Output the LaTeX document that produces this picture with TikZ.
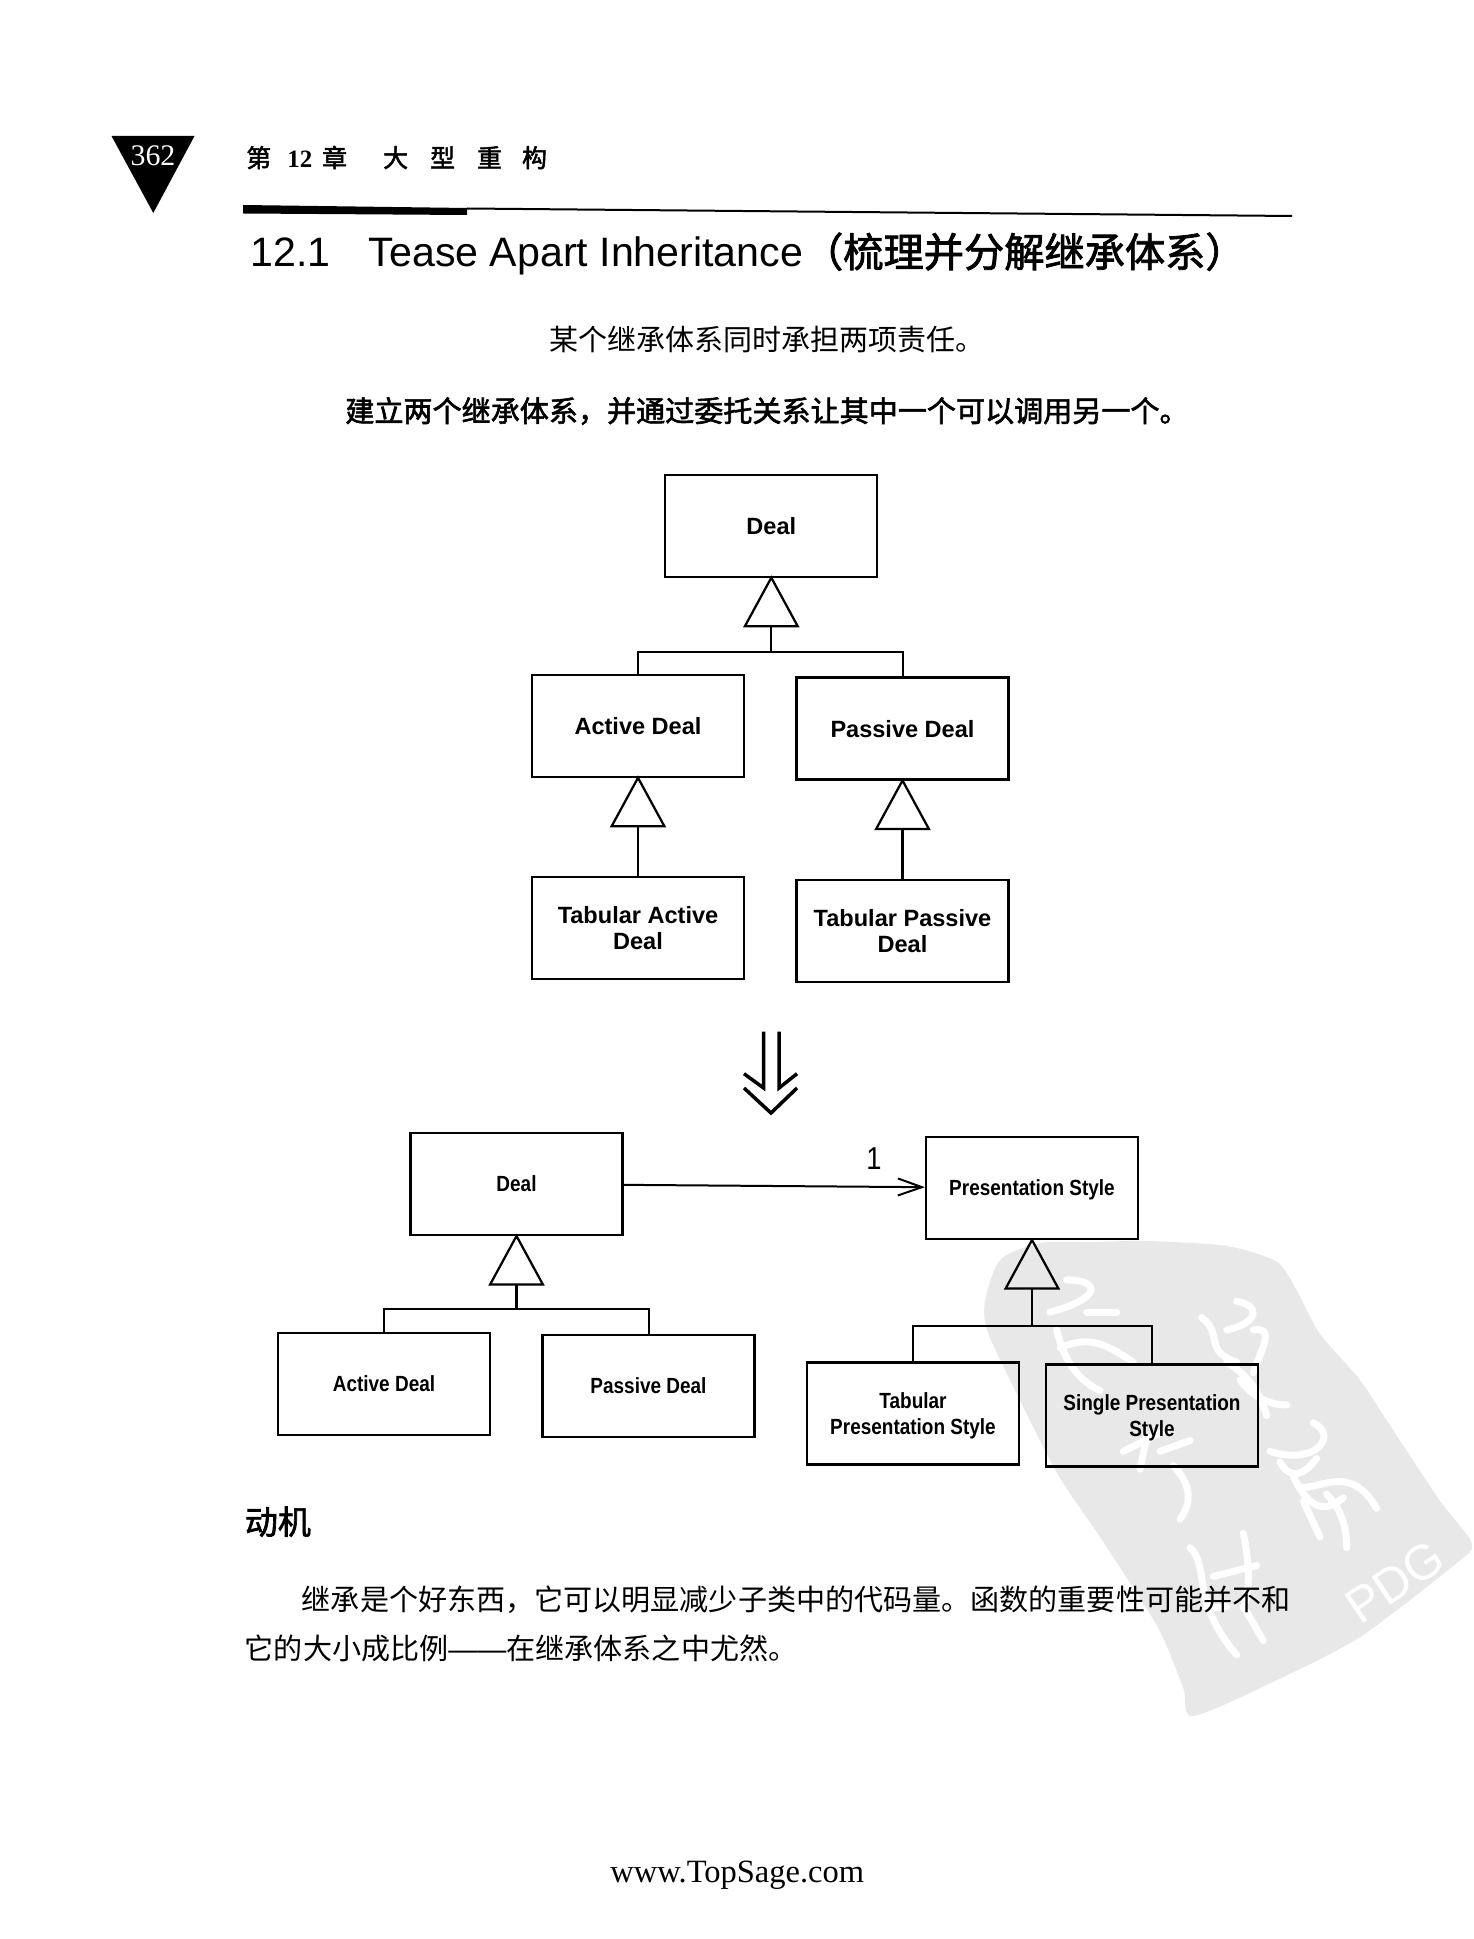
\documentclass[tikz,border=0pt]{standalone}
\usepackage{fontspec}
\setmainfont{Liberation Sans}
\newfontfamily\cjk{Noto Sans CJK SC}
\newfontfamily\cjkbold[FakeBold=2]{Noto Sans CJK SC}
\newfontfamily\timesfont{Liberation Serif}
\newfontfamily\narrowfont[FakeStretch=.864]{Liberation Sans}
\usetikzlibrary{arrows.meta, positioning}
\definecolor{stamp}{RGB}{232, 232, 232}
\begin{document}
\begin{tikzpicture}[
            x=0.02cm, y=-0.02cm,
            classbox/.style={rectangle, draw, line width=0.045cm, inner sep=0pt, align=center, text depth=0pt, minimum width=4.24cm, minimum height=2.04cm},
            upper/.style={classbox, font=\bfseries\fontsize{13.4}{15.3}\selectfont},
            lower/.style={classbox, font=\narrowfont\bfseries\fontsize{12.5}{15.2}\selectfont},
            pagetext/.style={anchor=west, inner sep=0pt},
            inherits/.style={line width=0.045cm, shorten >=-0.05cm, -{Triangle[open, length=1.04cm, width=1.12cm]}},
            tree/.style={line width=0.04cm},
            seal/.style={draw=white, line width=0.14cm, line cap=round, line join=round}
        ]
            \useasboundingbox (0,0) rectangle (1473,1939);

            % STAMP
            \fill[stamp] plot[smooth cycle, tension=.45] coordinates {
                (985,1301) (1000,1260) (1040,1243) (1093,1242) (1147,1241) (1227,1246) (1277,1262) (1297,1291)
                (1320,1334) (1360,1380) (1393,1430) (1440,1501) (1472,1544) (1453,1566) (1360,1637) (1277,1680)
                (1193,1716) (1183,1687) (1157,1626) (1100,1537) (1057,1473) (1010,1380) (987,1330)};
            \begin{scope}[shift={(960,1180)}, x=0.00667cm, y=-0.00714cm]
                \draw[seal] (320,280) .. controls (420,280) and (430,330) .. (270,370);
                \draw[seal] (380,370) -- (470,370);
                \draw[seal] (290,420) .. controls (310,500) and (350,560) .. (420,590);
                \draw[seal] (300,470) .. controls (400,430) and (450,470) .. (520,510);
                \draw[seal] (830,340) .. controls (900,350) and (900,400) .. (800,420);
                \draw[seal] (725,385) .. controls (790,430) and (730,480) .. (830,510);
                \draw[seal] (880,420) .. controls (950,410) and (900,480) .. (880,540);
                \draw[seal] (800,510) .. controls (870,550) and (900,600) .. (920,660);
                \draw[seal] (840,560) .. controls (880,610) and (930,630) .. (980,630);
                \draw[seal] (490,760) -- (620,700);
                \draw[seal] (560,720) -- (540,810);
                \draw[seal] (600,760) -- (690,730);
                \draw[seal] (640,800) .. controls (690,850) and (700,900) .. (660,950);
                \draw[seal] (1060,680) .. controls (1140,720) and (1060,800) .. (930,760);
                \draw[seal] (960,790) .. controls (990,840) and (1030,830) .. (1070,780);
                \draw[seal] (1020,860) .. controls (1080,870) and (1170,790) .. (1250,920);
                \draw[seal] (1030,900) -- (1080,1000);
                \draw[seal] (1100,880) .. controls (1150,930) and (1160,980) .. (1160,1030);
                \draw[seal] (1000,830) .. controls (1050,930) and (1100,930) .. (1150,890);
                \draw[seal] (690,1030) .. controls (750,1080) and (690,1180) .. (830,1330);
                \draw[seal] (850,990) .. controls (870,1080) and (870,1150) .. (850,1200);
                \draw[seal] (760,1110) -- (890,1080);
                \draw[seal] (740,1200) -- (800,1195);
                \draw[seal] (860,1210) -- (910,1290);
            \end{scope}
            \node[white, rotate=34, inner sep=0pt, font=\fontsize{28}{28}\selectfont] (pdg) at (1395,1582) {PDG};

            % HEADER
            \fill (111.5,136) -- (194.5,136) -- (153.3,213) -- cycle;
            \node[white, inner sep=0pt, font=\timesfont\fontsize{17}{17}\selectfont] (pageno) at (153,155.5) {362};
            \node[pagetext, font=\cjkbold\fontsize{14.2}{14.2}\selectfont] (chapter) at (246,157.5) {第\hspace{.32cm}{\timesfont\bfseries 12}\hspace{.2cm}章\hspace{.72cm}大\hspace{.44cm}型\hspace{.44cm}重\hspace{.4cm}构};
            \fill (243,205) -- (467,208) -- (467,215) -- (243,213.5) -- cycle;
            \draw[line width=0.04cm] (467,208.5) -- (1292,216);

            % TITLE
            \node[pagetext, font=\fontsize{23.4}{23.4}\selectfont] (title) at (250,254) {12.1\hspace{.77cm}Tease Apart Inheritance{\cjkbold\fontsize{22.9}{22.9}\selectfont （梳理并分解继承体系）}};
            \node[pagetext, font=\cjk\fontsize{16.5}{16.5}\selectfont] (problem) at (549.5,339) {某个继承体系同时承担两项责任。};
            \node[pagetext, font=\cjkbold\fontsize{16.55}{16.55}\selectfont] (solution) at (345,411) {建立两个继承体系，并通过委托关系让其中一个可以调用另一个。};

            % BEFORE
            \node[upper] (deal) at (771.3,525.7) {Deal};
            \node[upper] (active) at (638,725.8) {Active Deal};
            \node[upper] (passive) at (902.5,728.5) {Passive Deal};
            \node[upper] (tabactive) at (638,928) {Tabular Active\\Deal};
            \node[upper] (tabpassive) at (902.5,931) {Tabular Passive\\Deal};
            \coordinate (dealjoin) at (771.3,652);
            \draw[inherits] (dealjoin) -- (deal.south);
            \draw[tree] (active.north) |- (dealjoin) -| (passive.north);
            \draw[inherits] (tabactive) -- (active);
            \draw[inherits] (tabpassive) -- (passive);

            % REFACTORING ARROW
            \draw[line width=0.07cm] (763.6,1031.7) -- (763.6,1088) -- (744,1073.7);
            \draw[line width=0.07cm] (779,1031.7) -- (779,1088) -- (797,1073.7);
            \draw[line width=0.07cm] (744,1088) -- (771,1113) -- (797,1088);

            % AFTER
            \node[lower] (newdeal) at (516.5,1184) {Deal};
            \node[lower] (style) at (1032,1188) {Presentation Style};
            \node[lower] (newactive) at (384,1384) {Active Deal};
            \node[lower] (newpassive) at (648.5,1386) {Passive Deal};
            \node[lower] (tabstyle) at (913,1413.5) {Tabular\\Presentation Style};
            \node[lower] (singlestyle) at (1152,1415.5) {Single Presentation\\Style};
            \coordinate (newjoin) at (516.5,1309);
            \coordinate (stylejoin) at (1032,1325.5);
            \draw[inherits] (newjoin) -- (newdeal.south);
            \draw[tree] (newactive.north) |- (newjoin) -| (newpassive.north);
            \draw[inherits] (stylejoin) -- (style.south);
            \draw[tree] (tabstyle.north) |- (stylejoin) -| (singlestyle.north);
            \draw[tree, -{Straight Barb[length=0.48cm, width=0.34cm]}] (newdeal) -- (style);
            \node[inner sep=0pt, font=\narrowfont\fontsize{18}{18}\selectfont] (one) at (874,1159) {1};

            % BODY
            \node[pagetext, font=\cjkbold\fontsize{18.8}{18.8}\selectfont] (motive) at (244.5,1521.7) {动机};
            \node[pagetext, font=\cjk\fontsize{16.55}{16.55}\selectfont] (bodya) at (301.5,1600) {继承是个好东西，它可以明显减少子类中的代码量。函数的重要性可能并不和};
            \node[pagetext, font=\cjk\fontsize{16.55}{16.55}\selectfont] (bodyb) at (244.5,1648.3) {它的大小成比例{\rmfamily ——}在继承体系之中尤然。};
            \node[pagetext, font=\timesfont\fontsize{18.5}{18.5}\selectfont] (site) at (610,1875.5) {www.TopSage.com};
        \end{tikzpicture}
\end{document}
